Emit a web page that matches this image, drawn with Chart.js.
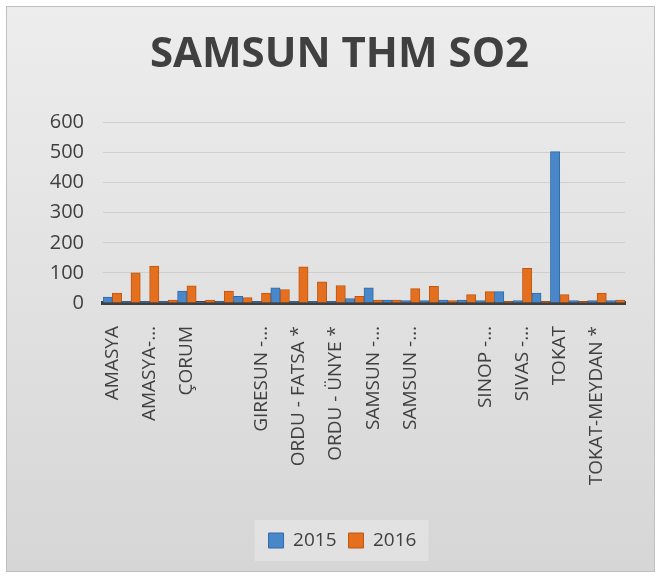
<!DOCTYPE html>
<html>
<head>
<meta charset="utf-8">
<script src="https://cdn.jsdelivr.net/npm/chart.js@4.4.0/dist/chart.umd.min.js"></script>
<style>
    html, body { margin: 0; padding: 0; background: #ffffff; }
    #wrap { width: 661px; height: 578px; position: relative; }
</style>
</head>
<body>
<div id="wrap"><canvas id="so2Chart"></canvas></div>
<script>
// Stations (only every other label is printed on the axis, as in the original)
const categories = [
    'AMASYA', '', 'AMASYA-…', '', 'ÇORUM', '', '', '',
    'GIRESUN -…', '', 'ORDU - FATSA *', '', 'ORDU - ÜNYE *', '',
    'SAMSUN -…', '', 'SAMSUN -…', '', '', '', 'SINOP -…', '',
    'SIVAS -…', '', 'TOKAT', '', 'TOKAT-MEYDAN *', ''
];
const values2015 = [20, 5, 5, 5, 40, 3, 5, 22, 5, 50, 5, 5, 5, 15, 50, 10, 8, 8, 10, 10, 8, 38, 8, 33, 503, 8, 8, 8];
const values2016 = [33, 100, 123, 10, 57, 10, 40, 18, 33, 45, 120, 70, 58, 22, 10, 10, 48, 55, 8, 28, 38, 5, 115, 5, 28, 5, 33, 10];
const yTicks = [0, 100, 200, 300, 400, 500, 600];

const textColor = '#404040';

// gray gradient background + the lighter legend panel
const backdrop = {
    id: 'backdrop',
    afterLayout(chart) {
        // original centres title and legend a bit right of the canvas centre
        chart.titleBlock.left += 17;
        chart.titleBlock.right += 17;
        chart.legend.left += 20;
        chart.legend.right += 20;
        chart.legend.legendHitBoxes.forEach(b => { b.left += 20; });
    },
    beforeDraw(chart) {
        const ctx = chart.ctx;
        const w = chart.width, h = chart.height;
        ctx.save();
        ctx.fillStyle = '#ffffff';
        ctx.fillRect(0, 0, w, h);
        const g = ctx.createLinearGradient(0, 6, 0, h - 6);
        g.addColorStop(0, '#ededed');
        g.addColorStop(1, '#d6d6d6');
        ctx.fillStyle = g;
        ctx.fillRect(6, 6, w - 12, h - 12);
        ctx.strokeStyle = '#bfbfbf';
        ctx.lineWidth = 1;
        ctx.strokeRect(6.5, 6.5, w - 13, h - 13);

        const boxes = chart.legend && chart.legend.legendHitBoxes;
        if (boxes && boxes.length) {
            const first = boxes[0], last = boxes[boxes.length - 1];
            const x0 = first.left - 14, x1 = last.left + last.width + 12;
            const y0 = first.top - 11, y1 = first.top + first.height + 11;
            ctx.fillStyle = 'rgba(255,255,255,0.25)';
            ctx.fillRect(x0, y0, x1 - x0, y1 - y0);
        }
        ctx.restore();
    }
};

const ctx = document.getElementById('so2Chart').getContext('2d');
new Chart(ctx, {
    type: 'bar',
    data: {
        labels: categories,
        datasets: [{
            label: '2015',
            data: values2015,
            backgroundColor: '#4a87c9',
            borderColor: '#2f6aa8',
            borderWidth: 1,
            categoryPercentage: 1.0,
            barPercentage: 1.0
        }, {
            label: '2016',
            data: values2016,
            backgroundColor: '#e46f1f',
            borderColor: '#c0560f',
            borderWidth: 1,
            categoryPercentage: 1.0,
            barPercentage: 1.0
        }]
    },
    options: {
        responsive: true,
        maintainAspectRatio: false,
        animation: false,
        layout: {
            padding: { left: 20, right: 36, top: 0, bottom: 18 }
        },
        plugins: {
            title: {
                display: true,
                text: 'SAMSUN THM SO2',
                color: textColor,
                font: { family: 'Open Sans', size: 42, weight: 'bold' },
                padding: { top: 30, bottom: 42 }
            },
            legend: {
                position: 'bottom',
                labels: {
                    color: textColor,
                    font: { family: 'Open Sans', size: 19 },
                    boxWidth: 15,
                    boxHeight: 15,
                    padding: 12
                }
            },
            tooltip: { enabled: false }
        },
        scales: {
            x: {
                grid: { display: false },
                border: { color: '#3f3f3f', width: 4 },
                ticks: {
                    color: textColor,
                    font: { family: 'Open Sans', size: 19 },
                    autoSkip: false,
                    maxRotation: 90,
                    minRotation: 90,
                    padding: 15
                },
                afterFit(scale) { scale.height = 216; }
            },
            y: {
                min: 0,
                max: 600,
                border: { display: false },
                grid: { color: '#cfcfcf', drawTicks: false },
                afterBuildTicks(scale) {
                    scale.ticks = yTicks.map(v => ({ value: v }));
                },
                ticks: {
                    color: textColor,
                    font: { family: 'Open Sans', size: 20 },
                    padding: 19
                },
                afterFit(scale) { scale.width = 83; }
            }
        }
    },
    plugins: [backdrop]
});
</script>
</body>
</html>
